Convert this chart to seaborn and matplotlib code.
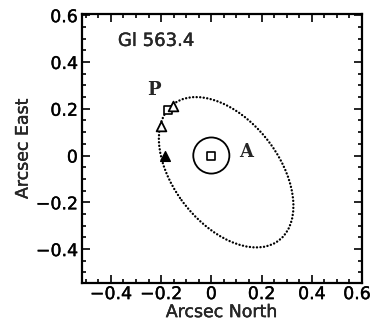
import matplotlib
matplotlib.use("Agg")
import matplotlib.pyplot as plt
import matplotlib.patheffects as pe
import matplotlib.transforms as mtransforms
import seaborn as sns
import pandas as pd
from matplotlib.patches import Ellipse
from matplotlib.ticker import MultipleLocator, FixedLocator, FixedFormatter

# ---- data ----
orbit_center = (0.059, -0.0715)   # centre of the relative orbit (arcsec)
orbit_width = 0.719               # major axis length
orbit_height = 0.428              # minor axis length
orbit_angle = -56.1               # orientation (deg)

filled_tri_x = [-0.185]
filled_tri_y = [0.0]
open_tri_x = [-0.202, -0.152]
open_tri_y = [0.125, 0.213]
square_x = [-0.174, 0.0]
square_y = [0.194, 0.0]
primary_x = [0.0]
primary_y = [0.0]

tick_vals = [-0.4, -0.2, 0.0, 0.2, 0.4, 0.6]
tick_labels = ["\u22120.4", "\u22120.2", "0", "0.2", "0.4", "0.6"]

title_text = "Gl 563.4"
xlabel = "Arcsec North"
ylabel = "Arcsec East"

# ---- drawing ----
sns.set_style("ticks")
plt.rcParams["font.family"] = ["DejaVu Sans"]
thick = [pe.withStroke(linewidth=0.25, foreground="black")]

fig = plt.figure(figsize=(3.71, 3.21), dpi=100)
ax = fig.add_axes([82 / 371, 1 - 283 / 321, 280 / 371, 269 / 321])

orbit = Ellipse(orbit_center, orbit_width, orbit_height, angle=orbit_angle,
                fill=False, edgecolor="black", linewidth=1.7,
                linestyle=(0, (0.05, 1.45)), capstyle="round")
ax.add_patch(orbit)

df_primary = pd.DataFrame({"x": primary_x, "y": primary_y})
sns.scatterplot(data=df_primary, x="x", y="y", ax=ax, marker="o", s=26 ** 2,
                facecolor="none", edgecolor="black", linewidth=1.3, legend=False)

df_sq = pd.DataFrame({"x": square_x, "y": square_y})
sns.scatterplot(data=df_sq, x="x", y="y", ax=ax, marker="s", s=6.3 ** 2,
                facecolor="white", edgecolor="black", linewidth=1.2, legend=False, zorder=4)

df_ot = pd.DataFrame({"x": open_tri_x, "y": open_tri_y})
sns.scatterplot(data=df_ot, x="x", y="y", ax=ax, marker="^", s=7 ** 2,
                facecolor="white", edgecolor="black", linewidth=1.3, legend=False, zorder=5)

df_ft = pd.DataFrame({"x": filled_tri_x, "y": filled_tri_y})
sns.scatterplot(data=df_ft, x="x", y="y", ax=ax, marker="^", s=7 ** 2,
                color="black", edgecolor="black", linewidth=1.0, legend=False, zorder=5)

ax.text(-0.23, 0.28, "P", fontsize=13, family="DejaVu Serif", fontweight="bold",
        ha="center", va="center")
ax.text(0.14, 0.013, "A", fontsize=13, family="DejaVu Serif", fontweight="bold",
        ha="center", va="center")
ax.text(-0.372, 0.49, title_text, fontsize=13, ha="left", va="center",
        path_effects=thick)

ax.set_xlim(-0.515, 0.6)
ax.set_ylim(-0.545, 0.605)

ax.xaxis.set_major_locator(FixedLocator(tick_vals))
ax.xaxis.set_major_formatter(FixedFormatter(tick_labels))
ax.yaxis.set_major_locator(FixedLocator(tick_vals))
ax.yaxis.set_major_formatter(FixedFormatter(tick_labels))
ax.xaxis.set_minor_locator(MultipleLocator(0.05))
ax.yaxis.set_minor_locator(MultipleLocator(0.05))

ax.tick_params(which="both", direction="in", top=True, right=True,
               width=1.2, colors="black", labelsize=12.5)
ax.tick_params(axis="x", pad=1.5)
ax.tick_params(axis="y", pad=3)
ax.tick_params(which="major", length=6)
ax.tick_params(which="minor", length=3)
for lab in ax.get_xticklabels() + ax.get_yticklabels():
    lab.set_path_effects(thick)
for sp in ax.spines.values():
    sp.set_linewidth(1.6)
    sp.set_color("black")

# keep the right-most x tick label inside the canvas
last = ax.get_xticklabels()[-1]
last.set_transform(last.get_transform() +
                   mtransforms.ScaledTranslation(-5 / 100, 0, fig.dpi_scale_trans))

ax.set_xlabel(xlabel, fontsize=12.5, labelpad=0, path_effects=thick)
ax.set_ylabel(ylabel, fontsize=12.5, labelpad=3, path_effects=thick)

fig.savefig("out.png", dpi=100)
